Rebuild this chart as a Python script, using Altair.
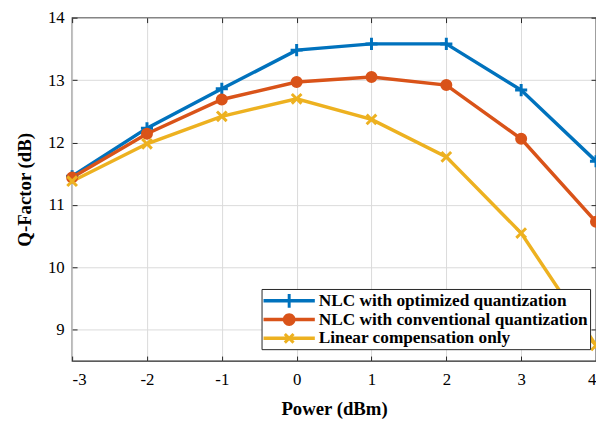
import altair as alt
import pandas as pd

power = [-3, -2, -1, 0, 1, 2, 3, 4]
q_opt = [11.46, 12.23, 12.86, 13.48, 13.58, 13.58, 12.84, 11.70]
q_conv = [11.44, 12.14, 12.69, 12.97, 13.05, 12.92, 12.06, 10.73]
q_lin = [11.38, 11.98, 12.42, 12.70, 12.37, 11.77, 10.55, 8.75]

series_names = [
    "NLC with optimized quantization",
    "NLC with conventional quantization",
    "Linear compensation only",
]
colors = ["#0072BD", "#D95319", "#EDB120"]

x_ticks = [-3, -2, -1, 0, 1, 2, 3, 4]
y_ticks = [9, 10, 11, 12, 13, 14]

rows = []
for name, vals in zip(series_names, [q_opt, q_conv, q_lin]):
    for p, v in zip(power, vals):
        rows.append({"Power": p, "Q": v, "Series": name})
df = pd.DataFrame(rows)

# marker shapes on the chart (unit square paths)
marker_paths = [
    "M-1,0H1M0,-1V1",
    "M-0.75,0A0.75,0.75 0 1,1 0.75,0A0.75,0.75 0 1,1 -0.75,0Z",
    "M-0.8,-0.8L0.8,0.8M-0.8,0.8L0.8,-0.8",
]
# legend symbols: line segment + marker (filled paths, wider than the unit box)
bar = "M-2.6,-0.175H2.6V0.175H-2.6Z"
legend_paths = [
    bar + "M-0.15,-0.7H0.15V0.7H-0.15Z",
    bar + "M-0.65,0A0.65,0.65 0 1,1 0.65,0A0.65,0.65 0 1,1 -0.65,0Z",
    bar + "M-0.335,-0.549L0.549,0.335L0.335,0.549L-0.549,-0.335Z"
          "M-0.549,0.335L0.335,-0.549L0.549,-0.335L-0.335,0.549Z",
]

FONT = "Liberation Serif"
LABEL_EXPR = "replace(datum.label, '\u2212', '-')"
x_scale = alt.Scale(domain=[-3, 4], nice=False, zero=False)
y_scale = alt.Scale(domain=[8.5, 14], nice=False, zero=False)
col_scale = alt.Scale(domain=series_names, range=colors)

base = alt.Chart(df)

lines = base.mark_line(strokeWidth=3.5).encode(
    x=alt.X("Power:Q", scale=x_scale,
            axis=alt.Axis(orient="bottom", values=x_ticks, offset=-5, tickSize=5,
                          domain=False, grid=True, gridColor="#dadada", gridWidth=1,
                          tickColor="#262626", labelFont=FONT, labelFontSize=17,
                          labelColor="#000", labelPadding=11, format="d",
                          labelExpr=LABEL_EXPR,
                          title="Power (dBm)", titleFont=FONT, titleFontSize=19,
                          titleFontWeight="bold", titleColor="#000", titlePadding=12)),
    y=alt.Y("Q:Q", scale=y_scale,
            axis=alt.Axis(orient="left", values=y_ticks, offset=-5, tickSize=5,
                          domain=False, grid=True, gridColor="#dadada", gridWidth=1,
                          tickColor="#262626", labelFont=FONT, labelFontSize=17,
                          labelColor="#000", labelPadding=8, format="d",
                          title="Q-Factor (dB)", titleFont=FONT, titleFontSize=19,
                          titleFontWeight="bold", titleColor="#000", titlePadding=13)),
    color=alt.Color("Series:N", scale=col_scale, legend=None),
    detail="Series:N",
)

points = base.mark_point(filled=True, strokeWidth=3, size=150, opacity=1).encode(
    x=alt.X("Power:Q", scale=x_scale,
            axis=alt.Axis(orient="top", values=x_ticks, offset=-5, tickSize=5,
                          domain=False, grid=False, labels=False,
                          tickColor="#262626", title=None)),
    y=alt.Y("Q:Q", scale=y_scale,
            axis=alt.Axis(orient="right", values=y_ticks, offset=-5, tickSize=5,
                          domain=False, grid=False, labels=False,
                          tickColor="#262626", title=None)),
    fill=alt.Fill("Series:N", scale=col_scale, legend=None),
    stroke=alt.Stroke("Series:N", scale=col_scale, legend=None),
    shape=alt.Shape("Series:N", scale=alt.Scale(domain=series_names, range=marker_paths),
                    legend=None),
)

legend_def = alt.Legend(orient="none", legendX=192, legendY=275,
                        title=None, direction="vertical", columns=1,
                        symbolSize=400, symbolOpacity=1, symbolOffset=16,
                        symbolStrokeWidth=0,
                        labelFont=FONT, labelFontSize=17.5,
                        labelFontWeight="bold", labelColor="#000",
                        labelLimit=400, labelOffset=20,
                        padding=2, rowPadding=0,
                        strokeColor="#262626", fillColor="white",
                        cornerRadius=0)

legend_layer = base.mark_point(filled=True, opacity=0, size=10).encode(
    x=alt.X("Power:Q", scale=x_scale, axis=None),
    y=alt.Y("Q:Q", scale=y_scale, axis=None),
    color=alt.Color("Series:N", scale=col_scale, legend=legend_def),
    shape=alt.Shape("Series:N", scale=alt.Scale(domain=series_names, range=legend_paths),
                    legend=legend_def),
)

chart = alt.layer(lines, points, legend_layer).resolve_scale(
    shape="independent", color="independent"
).resolve_axis(
    x="independent", y="independent"
).properties(
    width=531, height=348,
    autosize=alt.AutoSizeParams(type="none"),
    padding={"left": 65, "top": 7, "right": 0, "bottom": 58},
    background="white",
).configure_view(stroke="#262626", strokeWidth=1.3)

chart.save("out.html", embed_options={"renderer": "svg", "actions": False})
